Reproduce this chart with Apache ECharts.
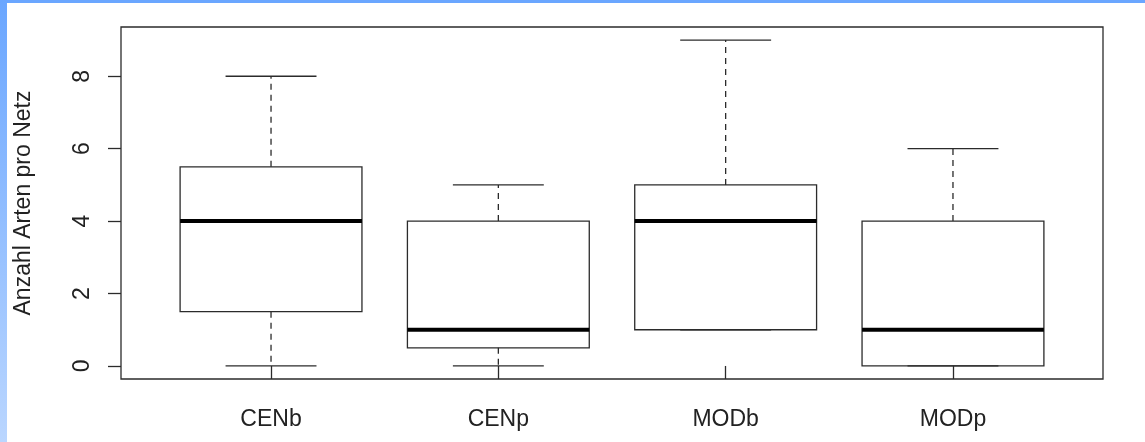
<!DOCTYPE html>
<html>
<head>
<meta charset="utf-8">
<title>Anzahl Arten pro Netz</title>
<script src="https://cdn.jsdelivr.net/npm/echarts@6/dist/echarts.min.js"></script>
<style>
  html, body { margin: 0; padding: 0; background: #fff; }
  #chart { width: 1145px; height: 442px; }
</style>
</head>
<body>
<div id="chart"></div>
<script>
// Gruppen und Boxplot-Kennwerte
const categories = ['CENb', 'CENp', 'MODb', 'MODp'];
const whiskerLow = [0, 0, 1, 0];
const q1 = [1.5, 0.5, 1, 0];
const median = [4, 1, 4, 1];
const q3 = [5.5, 4, 5, 4];
const whiskerHigh = [8, 5, 9, 6];
const yTicks = [0, 2, 4, 6, 8];

const lineColor = '#2b2b2b';
const boxWidth = 0.8;   // in Achseneinheiten
const stapleWidth = 0.4;

// [x, min, q1, median, q3, max]
const boxData = categories.map((c, i) => [i + 1, whiskerLow[i], q1[i], median[i], q3[i], whiskerHigh[i]]);

function renderBox(params, api) {
  const x = api.value(0);
  const lo = api.value(1), b1 = api.value(2), md = api.value(3), b3 = api.value(4), hi = api.value(5);
  const pL = api.coord([x - boxWidth / 2, 0])[0];
  const pR = api.coord([x + boxWidth / 2, 0])[0];
  const sL = api.coord([x - stapleWidth / 2, 0])[0];
  const sR = api.coord([x + stapleWidth / 2, 0])[0];
  const xc = api.coord([x, 0])[0];
  const y = v => api.coord([x, v])[1];
  const solid = { stroke: lineColor, lineWidth: 1.3, fill: null };
  const dashed = { stroke: lineColor, lineWidth: 1.3, lineDash: [6, 5] };
  const children = [];
  if (hi > b3) {
    children.push({ type: 'line', shape: { x1: xc, y1: y(b3), x2: xc, y2: y(hi) }, style: dashed });
  }
  if (lo < b1) {
    children.push({ type: 'line', shape: { x1: xc, y1: y(b1), x2: xc, y2: y(lo) }, style: dashed });
  }
  children.push({ type: 'line', shape: { x1: sL, y1: y(hi), x2: sR, y2: y(hi) }, style: solid });
  children.push({ type: 'line', shape: { x1: sL, y1: y(lo), x2: sR, y2: y(lo) }, style: solid });
  children.push({ type: 'rect', shape: { x: pL, y: y(b3), width: pR - pL, height: y(b1) - y(b3) }, style: solid });
  children.push({ type: 'line', shape: { x1: pL, y1: y(md), x2: pR, y2: y(md) }, style: { stroke: '#000', lineWidth: 4 } });
  return { type: 'group', children: children };
}

const chart = echarts.init(document.getElementById('chart'));
chart.setOption({
  animation: false,
  backgroundColor: '#fff',
  graphic: [
    { type: 'rect', left: 0, top: 0, shape: { width: 1145, height: 3 }, style: { fill: '#6aa6ff' }, silent: true },
    {
      type: 'rect', left: 0, top: 0, shape: { width: 7, height: 442 }, silent: true,
      style: { fill: new echarts.graphic.LinearGradient(0, 0, 0, 1, [
        { offset: 0, color: '#6aa6ff' }, { offset: 1, color: '#bad6ff' }
      ]) }
    }
  ],
  grid: {
    left: 121, top: 27, right: 42, bottom: 63,
    show: true, borderColor: lineColor, borderWidth: 1.3, backgroundColor: 'transparent'
  },
  xAxis: {
    type: 'value',
    min: 0.34, max: 4.66,
    splitLine: { show: false },
    axisLine: { show: false },
    axisTick: { show: true, length: 13, customValues: [1, 2, 3, 4], lineStyle: { color: lineColor, width: 1.3 } },
    axisLabel: {
      customValues: [1, 2, 3, 4],
      formatter: v => categories[Math.round(v) - 1] || '',
      color: '#222', fontFamily: 'Liberation Sans, Arial, sans-serif', fontSize: 23, margin: 29
    }
  },
  yAxis: {
    type: 'value',
    min: -0.36, max: 9.36,
    name: 'Anzahl Arten pro Netz',
    nameLocation: 'middle',
    nameGap: 86,
    nameTextStyle: { color: '#222', fontFamily: 'Liberation Sans, Arial, sans-serif', fontSize: 23 },
    splitLine: { show: false },
    axisLine: { show: false },
    axisTick: { show: true, length: 13, customValues: yTicks, lineStyle: { color: lineColor, width: 1.3 } },
    axisLabel: {
      customValues: yTicks,
      rotate: 90,
      color: '#222', fontFamily: 'Liberation Sans, Arial, sans-serif', fontSize: 23, margin: 27
    }
  },
  series: [{
    type: 'custom',
    renderItem: renderBox,
    encode: { x: 0, y: [1, 2, 3, 4, 5] },
    data: boxData,
    clip: false
  }]
});
</script>
</body>
</html>
